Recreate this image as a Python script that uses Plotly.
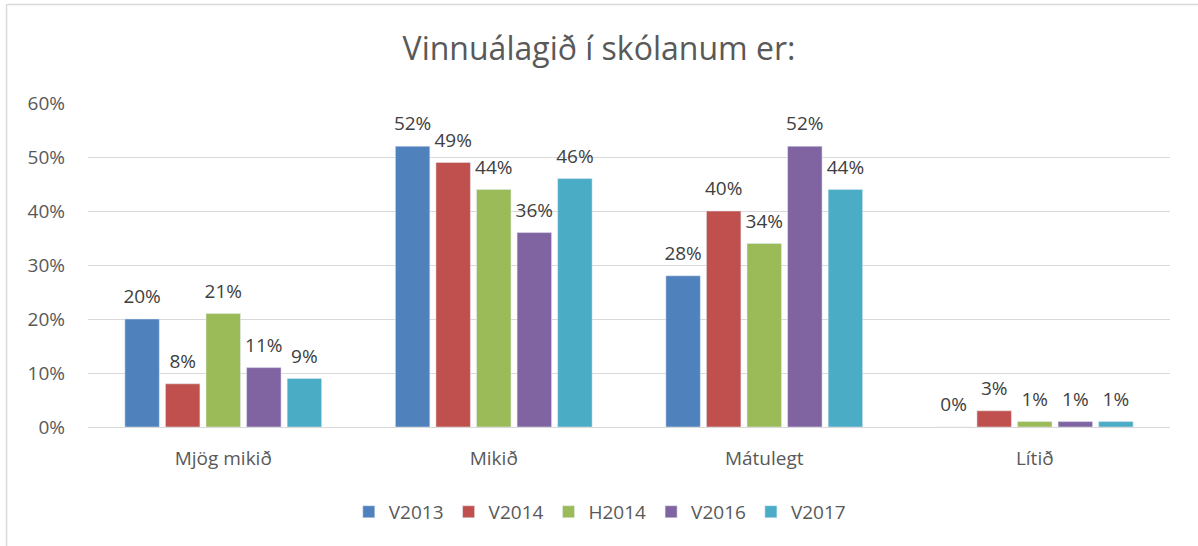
import plotly.graph_objects as go

categories = ["Mjög mikið", "Mikið", "Mátulegt", "Lítið"]
series_names = ["V2013", "V2014", "H2014", "V2016", "V2017"]
v2013 = [20, 52, 28, 0]
v2014 = [8, 49, 40, 3]
h2014 = [21, 44, 34, 1]
v2016 = [11, 36, 52, 1]
v2017 = [9, 46, 44, 1]
colors = ["#4F81BD", "#C0504D", "#9BBB59", "#8064A2", "#4BACC6"]
y_ticks = [0, 10, 20, 30, 40, 50, 60]
y_tick_labels = ["0%", "10%", "20%", "30%", "40%", "50%", "60%"]

all_series = [v2013, v2014, h2014, v2016, v2017]

fig = go.Figure()
for name, vals, col in zip(series_names, all_series, colors):
    fig.add_trace(go.Bar(
        x=categories, y=vals, name=name, marker_color=col,
        offsetgroup=name, hoverinfo="x+y",
    ))
for name, vals in zip(series_names, all_series):
    fig.add_trace(go.Scatter(
        x=categories, y=vals, mode="markers+text", offsetgroup=name,
        text=[f"{v}%" for v in vals], textposition="top center",
        marker=dict(size=16, opacity=0, color="white"),
        textfont=dict(size=19, color="#404040"),
        showlegend=False, hoverinfo="skip", cliponaxis=False,
    ))

font_family = "Open Sans, Noto Sans, sans-serif"
fig.update_layout(
    width=1198, height=546,
    margin=dict(l=88, r=28, t=103, b=119),
    paper_bgcolor="white", plot_bgcolor="white",
    font=dict(family=font_family, color="#595959"),
    title=dict(text="Vinnuálagið í skólanum er:", x=0.5, xanchor="center",
               y=0.91, yanchor="middle", font=dict(size=32, color="#595959")),
    barmode="group", bargap=0.25, bargroupgap=0.15,
    scattermode="group", scattergap=0.25,
    showlegend=True,
    legend=dict(orientation="h", x=0.473, xanchor="center", y=-0.262, yanchor="middle",
                font=dict(size=19, color="#595959"), itemwidth=30, traceorder="normal"),
    xaxis=dict(showgrid=False, tickfont=dict(size=19, color="#595959"), ticks="",
               showline=False, ticklabelstandoff=18),
    yaxis=dict(range=[0, 60], tickvals=y_ticks, ticktext=y_tick_labels, showgrid=True,
               gridcolor="#d9d9d9", gridwidth=1, zeroline=True, zerolinecolor="#d9d9d9",
               zerolinewidth=1, tickfont=dict(size=19, color="#595959"), ticklabelstandoff=22),
    shapes=[
        dict(type="line", xref="paper", yref="paper", x0=-0.0753, x1=1.05, y0=1.304, y1=1.304,
             line=dict(color="#d9d9d9", width=1.5)),
        dict(type="line", xref="paper", yref="paper", x0=-0.0753, x1=-0.0753, y0=1.304, y1=-0.5,
             line=dict(color="#d9d9d9", width=1.5)),
    ],
)

fig.write_html("out.html")
